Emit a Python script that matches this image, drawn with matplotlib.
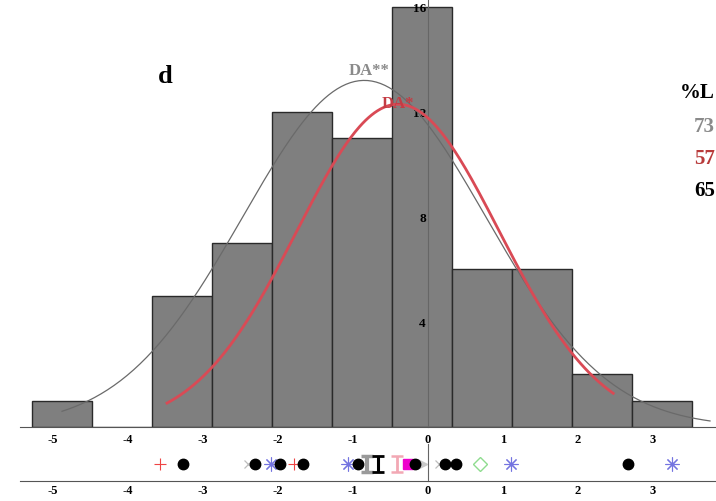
"""Panel d: histogram of scores with two fitted normal curves and a strip of method estimates."""

import matplotlib

matplotlib.use("Agg")
import matplotlib.pyplot as plt
import numpy as np

# histogram (bin edges and counts)
BIN_EDGES = [-5.28, -4.48, -3.68, -2.88, -2.08, -1.28, -0.48, 0.32, 1.12, 1.92, 2.72, 3.52]
BIN_COUNTS = [1, 0, 5, 7, 12, 11, 16, 6, 6, 2, 1]

# fitted normal curves: mean, sd, effective n, x range drawn
GRAY_FIT = {"mean": -0.85, "sd": 1.62, "n": 67, "x0": -4.88, "x1": 3.76}
RED_FIT = {"mean": -0.40, "sd": 1.35, "n": 52, "x0": -3.48, "x1": 2.47}

X_TICKS = [-5, -4, -3, -2, -1, 0, 1, 2, 3]
Y_TICKS = [4, 8, 12, 16]

# strip of individual estimates
RED_PLUS = [-3.57, -1.79]
BLACK_DOTS = [-3.27, -2.31, -1.97, -1.67, -0.93, -0.17, 0.23, 0.37, 2.67]
GRAY_CROSSES = [-2.40, 0.15]
BLUE_ASTERISKS = [-2.09, -1.07, 1.11, 3.25]
MAGENTA_SQUARE = [-0.27]
GRAY_TRIANGLE = [-0.08]
GREEN_DIAMOND = [0.69]
INTERVALS = {"gray": -0.81, "black": -0.67, "pink": -0.41}

# legend at the right edge (only the visible part of it survives in the picture)
LEGEND_HEADER = "%L"
LEGEND_VALUES = ["73", "57", "65"]
LEGEND_COLORS = ["#8a8a8a", "#b83a3a", "black"]

SERIF = "Liberation Serif"
RED = "#d94a55"
XMIN, XMAX = -5.707, 3.84


def normal_curve(fit: dict, bin_width: float) -> tuple[np.ndarray, np.ndarray]:
    xs = np.linspace(fit["x0"], fit["x1"], 300)
    ys = fit["n"] * bin_width * np.exp(-0.5 * ((xs - fit["mean"]) / fit["sd"]) ** 2) / (fit["sd"] * np.sqrt(2 * np.pi))
    return xs, ys


def style_x_axis(ax, pad: float) -> None:
    for side in ("top", "right"):
        ax.spines[side].set_visible(False)
    ax.spines["bottom"].set_bounds(-5.44, XMAX)
    ax.spines["bottom"].set_color("#555555")
    ax.spines["left"].set_position(("data", 0))
    ax.spines["left"].set_color("#666666")
    ax.set_xticks(X_TICKS)
    ax.set_xticklabels([str(t) for t in X_TICKS], fontfamily=SERIF, fontweight="bold", fontsize=9)
    ax.tick_params(axis="x", length=0, pad=pad)
    ax.set_xlim(XMIN, XMAX)
    ax.set_facecolor("none")


def plot_histogram(ax) -> None:
    widths = np.diff(BIN_EDGES)
    ax.bar(BIN_EDGES[:-1], BIN_COUNTS, width=widths, align="edge", color="#7f7f7f", edgecolor="#2a2a2a", linewidth=1)

    bin_width = widths[0]
    gx, gy = normal_curve(GRAY_FIT, bin_width)
    ax.plot(gx, gy, color="#6a6a6a", linewidth=0.9, zorder=3)
    rx, ry = normal_curve(RED_FIT, bin_width)
    ax.plot(rx, ry, color=RED, linewidth=2, zorder=3)

    style_x_axis(ax, pad=4)
    ax.set_ylim(0, 16.3)
    ax.set_yticks(Y_TICKS)
    ax.set_yticklabels([str(t) for t in Y_TICKS], fontfamily=SERIF, fontweight="bold", fontsize=9.5)
    ax.tick_params(axis="y", length=0, pad=1.5)

    ax.text(-3.5, 13.4, "d", fontfamily=SERIF, fontweight="bold", fontsize=19, ha="center", va="center")
    ax.text(-0.78, 13.6, "DA**", fontfamily=SERIF, fontweight="bold", fontsize=12, color="#8a8a8a", ha="center", va="center")
    ax.text(-0.40, 12.35, "DA*", fontfamily=SERIF, fontweight="bold", fontsize=12, color="#c43c44", ha="center", va="center")


def plot_strip(ax) -> None:
    y = 17
    ax.plot(RED_PLUS, [y] * len(RED_PLUS), "+", color="#ee4444", markersize=8, markeredgewidth=0.8, linestyle="none")
    ax.plot(GRAY_CROSSES, [y] * len(GRAY_CROSSES), "x", color="#bdbdbd", markersize=6, markeredgewidth=0.9, linestyle="none")
    ax.plot(BLUE_ASTERISKS, [y] * len(BLUE_ASTERISKS), marker=(8, 2, 0), color="#7474e0", markersize=10,
            markeredgewidth=0.8, linestyle="none")
    ax.plot(MAGENTA_SQUARE, [y], "s", color="#ee00cc", markersize=7, linestyle="none")
    ax.plot(GRAY_TRIANGLE, [y], ">", color="#c8c8c8", markersize=7, linestyle="none")
    ax.plot(GREEN_DIAMOND, [y], "D", markerfacecolor="none", markeredgecolor="#8fdc8f", markersize=7,
            markeredgewidth=1, linestyle="none")
    ax.plot(BLACK_DOTS, [y] * len(BLACK_DOTS), "o", color="black", markersize=7.5, linestyle="none", zorder=4)

    ax.errorbar([INTERVALS["gray"]], [y], yerr=8, color="#9a9a9a", linewidth=3, capsize=4, capthick=2.5)
    ax.errorbar([INTERVALS["black"]], [y], yerr=8, color="black", linewidth=2.2, capsize=4, capthick=2)
    ax.errorbar([INTERVALS["pink"]], [y], yerr=8, color="#f2a8b4", linewidth=2, capsize=4, capthick=1.8)

    style_x_axis(ax, pad=2)
    ax.set_ylim(0, 37)
    ax.set_yticks([])


def main() -> None:
    fig = plt.figure(figsize=(7.16, 5.02), dpi=100)
    ax_hist = fig.add_axes([0, 74 / 502, 1, 428 / 502])
    ax_strip = fig.add_axes([0, 20 / 502, 1, 37 / 502])

    plot_histogram(ax_hist)
    plot_strip(ax_strip)

    fig.text(715 / 716, 1 - 93 / 502, LEGEND_HEADER, fontfamily=SERIF, fontweight="bold", fontsize=15,
             ha="right", va="center")
    for i, (value, color) in enumerate(zip(LEGEND_VALUES, LEGEND_COLORS, strict=True)):
        fig.text(715 / 716, 1 - (127 + 32 * i) / 502, value, fontfamily=SERIF, fontweight="bold", fontsize=15,
                 color=color, ha="right", va="center")

    fig.savefig("out.png", dpi=100)


if __name__ == "__main__":
    main()
